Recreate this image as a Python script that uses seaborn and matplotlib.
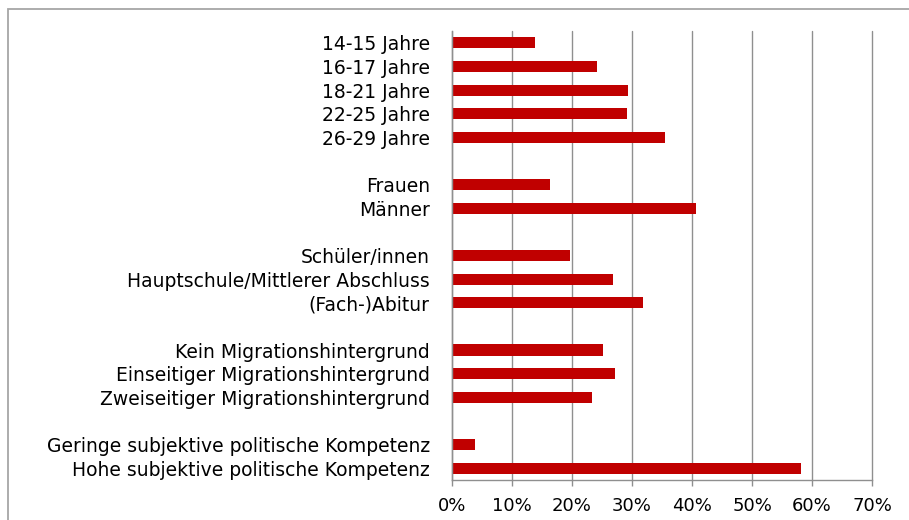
import pandas as pd
import matplotlib
matplotlib.use("Agg")
import matplotlib.pyplot as plt
import seaborn as sns
from matplotlib.patches import Rectangle
from matplotlib.ticker import PercentFormatter

# Gruppen (Anteile in %)
alter = ["14-15 Jahre", "16-17 Jahre", "18-21 Jahre", "22-25 Jahre", "26-29 Jahre"]
alter_werte = [13.8, 24.2, 29.4, 29.2, 35.5]

geschlecht = ["Frauen", "Männer"]
geschlecht_werte = [16.3, 40.7]

bildung = ["Schüler/innen", "Hauptschule/Mittlerer Abschluss", "(Fach-)Abitur"]
bildung_werte = [19.7, 26.9, 31.9]

migration = ["Kein Migrationshintergrund", "Einseitiger Migrationshintergrund",
             "Zweiseitiger Migrationshintergrund"]
migration_werte = [25.1, 27.1, 23.3]

kompetenz = ["Geringe subjektive politische Kompetenz", "Hohe subjektive politische Kompetenz"]
kompetenz_werte = [3.9, 58.1]

x_ticks = [0, 10, 20, 30, 40, 50, 60, 70]

gruppen = [(alter, alter_werte), (geschlecht, geschlecht_werte), (bildung, bildung_werte),
           (migration, migration_werte), (kompetenz, kompetenz_werte)]

labels, werte, order = [], [], []
for i, (cats, vals) in enumerate(gruppen):
    labels += cats
    werte += vals
    order += cats
    if i < len(gruppen) - 1:
        order.append(" " * (i + 1))  # leere Zeile zwischen den Gruppen

df = pd.DataFrame({"Gruppe": labels, "Anteil": werte})

sns.set_style("white")
plt.rcParams["font.family"] = ["DejaVu Sans"]

fig = plt.figure(figsize=(9.09, 5.2), dpi=100)
ax = fig.add_axes([452 / 909, 1 - 480 / 520, 420 / 909, 449 / 520])

sns.barplot(data=df, x="Anteil", y="Gruppe", order=order, color="#C00000",
            saturation=1, width=0.47, linewidth=0, ax=ax)

ax.set_xlim(0, 70)
ax.set_xticks(x_ticks)
ax.xaxis.set_major_formatter(PercentFormatter(decimals=0))
ax.set_xlabel("")
ax.set_ylabel("")

ax.grid(axis="x", color="#8f8f8f", linewidth=1.0)
ax.grid(axis="y", visible=False)
ax.set_axisbelow(True)
for gl in ax.get_xgridlines():
    gl.set_clip_on(False)

for s in ["top", "right"]:
    ax.spines[s].set_visible(False)
for s in ["left", "bottom"]:
    ax.spines[s].set_color("#8f8f8f")
    ax.spines[s].set_linewidth(1.0)

ax.tick_params(axis="y", length=0, pad=16, labelsize=13.5, labelcolor="black")
ax.tick_params(axis="x", length=4, width=1.0, color="#8f8f8f", direction="out",
               pad=8, labelsize=13, labelcolor="black", bottom=True)

# Rahmen um das Diagramm
fig.patches.append(Rectangle((8 / 909, -0.1), 1.2, 1.1 - 9 / 520, transform=fig.transFigure,
                             fill=False, edgecolor="#a6a6a6", linewidth=1.3))

fig.savefig("out.png", dpi=100)
